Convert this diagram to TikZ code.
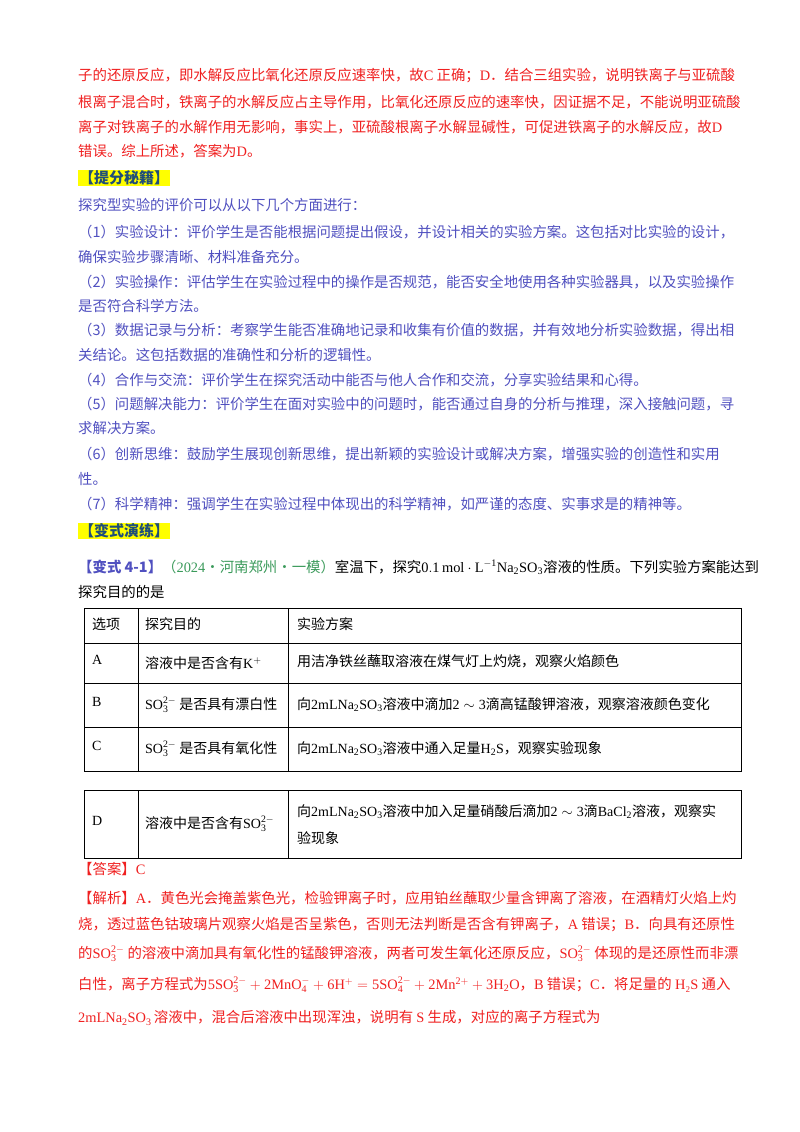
\documentclass[tikz,border=0pt]{standalone}
\usepackage{fontspec}
\setmainfont{Noto Sans CJK SC}
\setmathrm{Liberation Serif}
\newfontfamily\lat{Liberation Serif}
\definecolor{rd}{HTML}{F02020}
\definecolor{bl}{HTML}{5050C0}
\definecolor{hd}{HTML}{1F4E79}
\definecolor{gr}{HTML}{3A9A5A}
\definecolor{yl}{HTML}{FFFF00}
\tikzset{t/.style={anchor=west,inner sep=0pt,font=\fontsize{14.4}{16}\selectfont},
 hdr/.style={t,fill=yl,text=hd,font=\fontsize{15}{17}\selectfont\bfseries,inner sep=1pt}}
\newcommand\m[1]{{\lat$\mathrm{#1}$}}
\begin{document}
\begin{tikzpicture}[x=1pt,y=-1pt]
\useasboundingbox (0,0) rectangle (800,1132);
\fill[white] (0,0) rectangle (800,1132);
\begin{scope}[every node/.style={t,text=rd}]
\node (r1) at (78,76) {子的还原反应，即水解反应比氧化还原反应速率快，故{\lat C} 正确；{\lat D}．结合三组实验，说明铁离子与亚硫酸};
\node (r2) at (78,102) {根离子混合时，铁离子的水解反应占主导作用，比氧化还原反应的速率快，因证据不足，不能说明亚硫酸};
\node (r3) at (78,127) {离子对铁离子的水解作用无影响，事实上，亚硫酸根离子水解显碱性，可促进铁离子的水解反应，故{\lat D}};
\node (r4) at (78,151) {错误。综上所述，答案为{\lat D}。};
\end{scope}
\node[hdr] (h1) at (78,178) {【提分秘籍】};
\begin{scope}[every node/.style={t,text=bl}]
\node (b1) at (78,205) {探究型实验的评价可以从以下几个方面进行：};
\node (b2) at (78,232) {（1）实验设计：评价学生是否能根据问题提出假设，并设计相关的实验方案。这包括对比实验的设计，};
\node (b3) at (78,257) {确保实验步骤清晰、材料准备充分。};
\node (b4) at (78,282) {（2）实验操作：评估学生在实验过程中的操作是否规范，能否安全地使用各种实验器具，以及实验操作};
\node (b5) at (78,306) {是否符合科学方法。};
\node (b6) at (78,330) {（3）数据记录与分析：考察学生能否准确地记录和收集有价值的数据，并有效地分析实验数据，得出相};
\node (b7) at (78,355) {关结论。这包括数据的准确性和分析的逻辑性。};
\node (b8) at (78,380) {（4）合作与交流：评价学生在探究活动中能否与他人合作和交流，分享实验结果和心得。};
\node (b9) at (78,404) {（5）问题解决能力：评价学生在面对实验中的问题时，能否通过自身的分析与推理，深入接触问题，寻};
\node (b10) at (78,428) {求解决方案。};
\node (b11) at (78,454) {（6）创新思维：鼓励学生展现创新思维，提出新颖的实验设计或解决方案，增强实验的创造性和实用};
\node (b12) at (78,479) {性。};
\node (b13) at (78,504) {（7）科学精神：强调学生在实验过程中体现出的科学精神，如严谨的态度、实事求是的精神等。};
\end{scope}
\node[hdr] (h2) at (78,531) {【变式演练】};
\node[t] (q1) at (78,567) {{\color{bl}\bfseries【变式 4-1】}{\color{gr}（{\lat 2024}·河南郑州·一模）}室温下，探究\m{0.1\,mol\cdot L^{-1}Na_2SO_3}溶液的性质。下列实验方案能达到};
\node[t] (q2) at (78,592) {探究目的的是};
% table
\draw[thick] (84,608) rectangle (741,771);
\draw[thick] (84,643) -- (741,643) (84,683) -- (741,683) (84,727) -- (741,727);
\draw[thick] (138,608) -- (138,771) (288,608) -- (288,771);
\draw[thick] (84,790) rectangle (741,858);
\draw[thick] (138,790) -- (138,858) (288,790) -- (288,858);
\begin{scope}[every node/.style={t,font=\fontsize{14}{16}\selectfont}]
\node (c1) at (92,624) {选项};
\node (c2) at (145,624) {探究目的};
\node (c3) at (297,624) {实验方案};
\node (a1) at (92,660) {\lat A};
\node (a2) at (145,663) {溶液中是否含有\m{K^+}};
\node (a3) at (297,661) {用洁净铁丝蘸取溶液在煤气灯上灼烧，观察火焰颜色};
\node (bb1) at (92,702) {\lat B};
\node (bb2) at (145,705) {\m{SO_3^{2-}}\ 是否具有漂白性};
\node (bb3) at (297,705) {向\m{2mLNa_2SO_3}溶液中滴加\m{2\sim3}滴高锰酸钾溶液，观察溶液颜色变化};
\node (cc1) at (92,746) {\lat C};
\node (cc2) at (145,749) {\m{SO_3^{2-}}\ 是否具有氧化性};
\node (cc3) at (297,749) {向\m{2mLNa_2SO_3}溶液中通入足量\m{H_2S}，观察实验现象};
\node (d1) at (92,821) {\lat D};
\node (d2) at (145,824) {溶液中是否含有\m{SO_3^{2-}}};
\node (d3) at (297,812) {向\m{2mLNa_2SO_3}溶液中加入足量硝酸后滴加\m{2\sim3}滴\m{BaCl_2}溶液，观察实};
\node (d4) at (297,838) {验现象};
\end{scope}
\begin{scope}[every node/.style={t,text=rd}]
\node (an) at (78,869) {【答案】{\lat C}};
\node (j1) at (78,898) {【解析】{\lat A}．黄色光会掩盖紫色光，检验钾离子时，应用铂丝蘸取少量含钾离了溶液，在酒精灯火焰上灼};
\node (j2) at (78,925) {烧，透过蓝色钴玻璃片观察火焰是否呈紫色，否则无法判断是否含有钾离子，{\lat A} 错误；{\lat B}．向具有还原性};
\node (j3) at (78,954) {的\m{\color{rd}SO_3^{2-}}\ 的溶液中滴加具有氧化性的锰酸钾溶液，两者可发生氧化还原反应，\m{\color{rd}SO_3^{2-}}\ 体现的是还原性而非漂};
\node (j4) at (78,985) {白性，离子方程式为\m{\color{rd}5SO_3^{2-}+2MnO_4^-+6H^+=5SO_4^{2-}+2Mn^{2+}+3H_2O}，{\lat B} 错误；{\lat C}．将足量的 {\lat H₂S} 通入};
\node (j5) at (78,1018) {\m{\color{rd}2mLNa_2SO_3}\,溶液中，混合后溶液中出现浑浊，说明有 {\lat S} 生成，对应的离子方程式为};
\end{scope}
\end{tikzpicture}
\end{document}
